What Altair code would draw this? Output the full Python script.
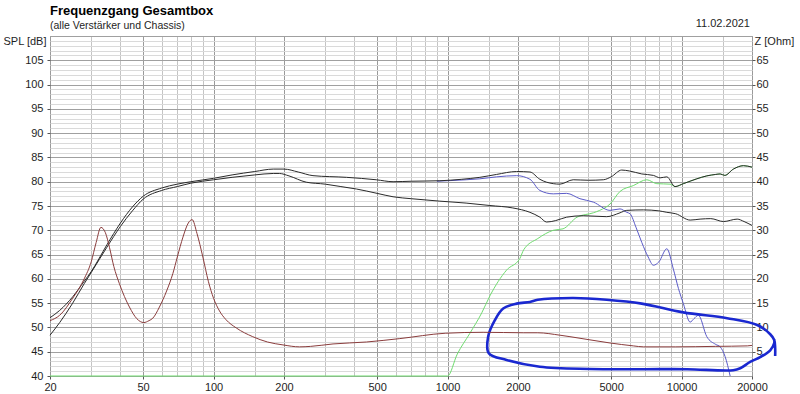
import altair as alt
import pandas as pd

# ---------------- data ----------------
# Upper black SPL curve (dB)
A_f = [20, 22, 25, 28, 30, 35, 40, 45, 50, 60, 70, 80, 100, 120, 150, 180, 200, 230, 266, 370, 496, 585, 700, 927,
       1150, 1374, 1620, 1972, 2250, 2480, 2650, 3020, 3443, 4000, 4630, 5000, 5549, 6000, 6760, 7580, 8100, 8650,
       9380, 10180, 11620, 12820, 14000, 14620, 15300, 16650, 18390, 20000]
A_db = [52.0, 53.5, 56.3, 59.5, 61.5, 67.0, 71.5, 74.8, 77.0, 78.7, 79.5, 80.0, 80.7, 81.4, 82.1, 82.6, 82.6, 82.0,
        81.25, 80.9, 80.4, 80.0, 80.1, 80.2, 80.5, 80.9, 81.5, 82.1, 82.0, 80.5, 79.9, 79.5, 80.4, 80.3, 80.4, 81.0,
        82.4, 82.2, 81.6, 81.3, 80.8, 81.0, 79.0, 79.6, 80.6, 81.2, 81.5, 81.6, 81.3, 82.6, 83.3, 83.0]

# Lower black SPL curve (dB)
B_f = [20, 22, 25, 28, 30, 35, 40, 45, 50, 60, 70, 80, 100, 120, 150, 180, 191, 210, 249, 300, 350, 408, 500, 585,
       700, 927, 1200, 1517, 1900, 2249, 2480, 2649, 2900, 3228, 3802, 4786, 5458, 5832, 6870, 8000, 8650, 9450,
       10880, 12000, 13330, 15100, 17290, 18500, 20000]
B_db = [48.4, 51.0, 55.0, 59.0, 61.3, 66.5, 70.8, 74.0, 76.4, 78.2, 79.0, 79.7, 80.4, 80.9, 81.4, 81.7, 81.7, 81.2,
        79.9, 79.5, 79.0, 78.5, 77.6, 76.9, 76.5, 76.0, 75.6, 75.1, 74.6, 73.7, 72.7, 71.7, 72.0, 72.7, 73.0, 72.8,
        73.6, 74.1, 74.2, 74.0, 73.7, 73.4, 72.1, 72.3, 72.4, 71.8, 72.3, 71.8, 71.0]

# Blue SPL curve (dB)
C_f = [900, 1000, 1200, 1374, 1620, 1972, 2250, 2480, 2830, 3228, 3680, 4198, 4945, 5458, 5832, 6025, 6400, 6760,
       7200, 7580, 8000, 8650, 9225, 9700, 10180, 10880, 11300, 11800, 12820, 14000, 14620, 15350, 16130]
C_db = [80.1, 80.2, 80.4, 80.6, 81.0, 81.25, 80.5, 78.2, 77.5, 77.6, 76.5, 75.8, 74.1, 74.4, 73.7, 73.4, 70.5, 67.5,
        64.5, 62.8, 63.5, 66.2, 62.0, 58.0, 54.9, 51.1, 51.8, 52.5, 48.1, 46.5, 46.0, 44.0, 40.0]

# Green SPL curve (dB)
G_f = [20, 1000, 1100, 1246, 1400, 1517, 1787, 2037, 2116, 2430, 2830, 3115, 3575, 4198, 4470, 4945, 5458, 6220,
       7100, 7840, 8930, 9380, 10180, 11620, 12820, 14000, 14620, 15300, 16650, 18390, 20000]
G_db = [40.0, 40.0, 44.5, 48.8, 53.0, 56.5, 61.8, 64.2, 66.0, 68.3, 70.0, 70.3, 72.7, 73.6, 74.1, 75.4, 78.0, 79.2,
        80.4, 79.6, 79.5, 79.0, 79.6, 80.6, 81.2, 81.5, 81.6, 81.3, 82.6, 83.3, 83.0]

# Impedance curve (Ohm, right axis)
Z_f = [20, 22, 25, 28, 30, 31.5, 33, 34.5, 35.9, 37.5, 39.6, 43.7, 47, 50.3, 53, 55, 58.7, 63, 67, 70, 74, 78, 81,
       85, 90, 95, 100, 106, 113, 125, 147, 170, 198, 233, 260, 324, 450, 625, 977, 1419, 2116, 2430, 3020, 3335,
       4945, 6220, 6880, 9450, 14000, 19100, 20000]
Z_ohm = [11.4, 12.5, 16.0, 20.0, 23.5, 27.5, 30.6, 29.5, 26.5, 22.5, 19.0, 14.2, 11.8, 11.0, 11.4, 11.9, 14.2, 17.5,
         21.1, 24.5, 28.6, 31.5, 32.2, 29.3, 24.5, 19.5, 16.0, 13.4, 11.6, 9.9, 8.1, 7.0, 6.4, 6.0, 6.1, 6.6, 7.0, 7.7,
         8.8, 9.0, 8.9, 8.9, 8.4, 8.1, 6.8, 6.2, 6.0, 6.0, 6.1, 6.2, 6.3]

# Hand-drawn annotation loop (Hz, dB)
E_f = [25120, 25120, 24890, 23930, 21050, 15660, 10160, 6760, 4786, 3443, 2430, 2249, 1972, 1729, 1593, 1491, 1500,
       1787, 2480, 4062, 6760, 10560, 16620, 17810, 19640, 21680, 23930, 24890, 24890]
E_db = [44.1, 45.8, 47.4, 48.6, 50.5, 51.9, 53.1, 54.9, 55.7, 56.05, 55.7, 55.25, 54.9, 53.9, 51.5, 48.1, 44.7,
        43.3, 41.9, 41.45, 41.4, 41.4, 41.2, 41.6, 42.9, 43.9, 45.3, 46.8, 47.4]

X_GRID = [20, 30, 40, 50, 60, 70, 80, 90, 100, 150, 200, 300, 400, 500, 600, 700, 800, 900, 1000, 1500, 2000, 3000,
          4000, 5000, 6000, 7000, 8000, 9000, 10000, 15000, 20000]
X_LABELS = [20, 50, 100, 200, 500, 1000, 2000, 5000, 10000, 20000]
SPL_VALUES = list(range(40, 111))
Z_VALUES = list(range(5, 70, 5))

TITLE = "Frequenzgang Gesamtbox"
SUBTITLE = "(alle Verstärker und Chassis)"
DATE = "11.02.2021"

FONT = "Liberation Sans"
TXT = "#1e1e1e"

# ---------------- scales / axes ----------------
x_scale = alt.Scale(type="log", domain=[20, 20000], nice=False)
spl_scale = alt.Scale(domain=[40, 110], nice=False, zero=False)
z_scale = alt.Scale(domain=[0, 70], nice=False, zero=False)

lab_list = "[" + ",".join(str(v) for v in X_LABELS) + "]"
x_major = f"indexof({lab_list}, datum.value) >= 0"

x_axis = alt.Axis(
    values=X_GRID, title=None, domain=False, labelFlush=False, labelOverlap=False,
    labelExpr=f"{x_major} ? datum.value + '' : ''",
    gridColor={"condition": {"test": x_major, "value": "#9a9a9a"}, "value": "#c4c4c4"},
    tickColor={"condition": {"test": x_major, "value": "#555555"}, "value": "transparent"},
    tickSize=3, labelPadding=2, labelFont=FONT, labelFontSize=11, labelColor=TXT,
)

spl_major = "datum.value % 5 === 0"
spl_axis = alt.Axis(
    values=SPL_VALUES, orient="left", domain=False,
    labelExpr="datum.value % 5 === 0 && datum.value <= 105 ? datum.value + '' : ''",
    gridColor={"condition": {"test": spl_major, "value": "#a0a0a0"}, "value": "#dadada"},
    tickColor={"condition": {"test": "datum.value % 5 === 0 && datum.value <= 105", "value": "#555555"},
               "value": "transparent"},
    tickSize=3, labelPadding=4, labelFont=FONT, labelFontSize=11, labelColor=TXT,
    title="SPL [dB]", titleAngle=0, titleAlign="right", titleBaseline="middle", titleX=-4, titleY=5,
    titleFont=FONT, titleFontSize=11, titleFontWeight="normal", titleColor=TXT,
)

z_axis = alt.Axis(
    values=Z_VALUES, orient="right", domain=False, grid=False,
    tickSize=3, labelPadding=1, labelFont=FONT, labelFontSize=11, labelColor=TXT, tickColor="#555555",
    title="Z [Ohm]", titleAngle=0, titleAlign="left", titleBaseline="middle", titleX=2, titleY=5,
    titleFont=FONT, titleFontSize=11, titleFontWeight="normal", titleColor=TXT,
)


def spl_line(freqs, vals, color, width=1.0, interp="monotone"):
    df = pd.DataFrame({"f": freqs, "v": vals})
    return alt.Chart(df).mark_line(color=color, strokeWidth=width, interpolate=interp, clip=False).encode(
        x=alt.X("f:Q", scale=x_scale, axis=x_axis),
        y=alt.Y("v:Q", scale=spl_scale, axis=spl_axis),
    )


green = spl_line(G_f, G_db, "#6fdc6f")
blue = spl_line(C_f, C_db, "#5a5ac8")
black_b = spl_line(B_f, B_db, "#2a2a2a")
black_a = spl_line(A_f, A_db, "#2a2a2a")

ell_df = pd.DataFrame({"f": E_f, "v": E_db, "i": list(range(len(E_f)))})
ellipse = alt.Chart(ell_df).mark_line(color="#1a28d0", strokeWidth=2.6, interpolate="catmull-rom",
                                      clip=False).encode(
    x=alt.X("f:Q", scale=x_scale, axis=x_axis),
    y=alt.Y("v:Q", scale=spl_scale, axis=spl_axis),
    order=alt.Order("i:Q"),
)

date_text = alt.Chart(pd.DataFrame({"t": [DATE]})).mark_text(
    align="right", baseline="alphabetic", font=FONT, fontSize=11, color=TXT
).encode(text="t:N", x=alt.value(700), y=alt.value(-9))

spl_layer = alt.layer(green, blue, black_b, black_a, ellipse, date_text)

z_df = pd.DataFrame({"f": Z_f, "z": Z_ohm})
red = alt.Chart(z_df).mark_line(color="#8a3c3c", strokeWidth=1, interpolate="monotone", clip=False).encode(
    x=alt.X("f:Q", scale=x_scale, axis=x_axis),
    y=alt.Y("z:Q", scale=z_scale, axis=z_axis),
)

chart = alt.layer(spl_layer, red).resolve_scale(y="independent").properties(
    width=702, height=340,
    autosize=alt.AutoSizeParams(type="none"),
    padding={"left": 50, "top": 36, "right": 48, "bottom": 18},
    background="white",
    title=alt.TitleParams(
        text=TITLE, subtitle=SUBTITLE, anchor="start", frame="group", orient="top",
        font=FONT, fontSize=13, fontWeight="bold", color="#000000",
        subtitleFont=FONT, subtitleFontSize=10.5, subtitleColor=TXT, subtitlePadding=3, offset=-13,
    ),
).configure_view(stroke="#8a8a8a", strokeWidth=1)

chart.save("out.html", embed_options={"renderer": "svg", "actions": False})
